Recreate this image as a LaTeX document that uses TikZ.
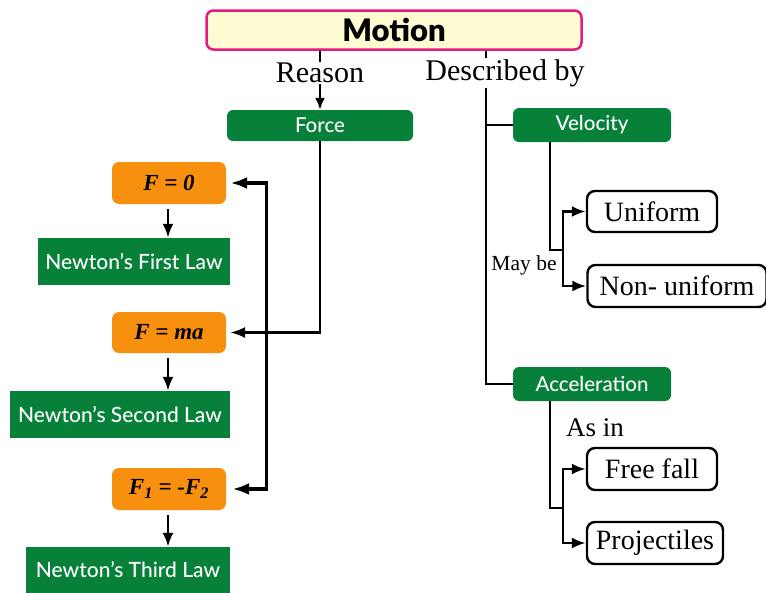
\documentclass[tikz,border=0pt]{standalone}
\usepackage{fontspec}
\setmainfont{Liberation Serif}
\IfFontExistsTF{Lato Black}{\newfontfamily\latoheavy{Lato Black}}{\newfontfamily\latoheavy{Lato}[UprightFont=*-Bold]}
\IfFontExistsTF{Lato Medium}{\newfontfamily\lato{Lato Medium}}{\newfontfamily\lato{Lato}}
\usetikzlibrary{arrows.meta}
\definecolor{lawgreen}{HTML}{07803A}
\definecolor{formorange}{HTML}{F7900E}
\definecolor{motionpink}{HTML}{E5197F}
\definecolor{motionfill}{HTML}{FFFBD2}
\begin{document}
\begin{tikzpicture}[x=1pt,y=-1pt,
  topbox/.style={draw=motionpink, line width=2.5pt, fill=motionfill, rounded corners=7pt, inner sep=0pt, font=\latoheavy\fontsize{31}{31}\selectfont},
  greenbox/.style={fill=lawgreen, text=white, rounded corners=6pt, inner sep=0pt, font=\lato\fontsize{20.5}{20.5}\selectfont},
  lawbox/.style={fill=lawgreen, text=white, inner sep=0pt, font=\lato\fontsize{21}{21}\selectfont},
  formbox/.style={fill=formorange, rounded corners=7pt, inner sep=0pt, minimum width=114pt, font=\bfseries\itshape\fontsize{23}{23}\selectfont},
  kindbox/.style={draw, line width=2.4pt, fill=white, rounded corners=8pt, inner sep=0pt, font=\fontsize{28}{28}\selectfont},
  word/.style={inner sep=1pt, font=\fontsize{30}{30}\selectfont},
  link/.style={line width=2.8pt},
  arr/.style={line width=2.8pt, -{Latex[length=14pt,width=11pt]}}]
\useasboundingbox (0,0) rectangle (766,592);
% top of the map
\node[topbox, minimum width=375pt, minimum height=39pt] (motion) at (394,30) {Motion};
\node[word] (reason) at (320,73) {Reason};
\node[word] (described) at (505,73) {Described by};
\draw[link] (motion.south -| reason.north) -- (reason.north);
\draw[link] (motion.south -| 486,0) -- (486,58);
% left: force and the three laws
\node[greenbox, minimum width=186pt, minimum height=31pt] (force) at (320,125.5) {Force};
\draw[line width=2.4pt, -{Latex[length=12pt,width=10pt]}] (reason.south) -- (force.north);
\node[formbox, minimum height=42pt] (f0) at (169,183) {F = 0};
\node[lawbox, minimum width=192pt, minimum height=47pt] (first) at (134,261.5) {Newton’s First Law};
\node[formbox, minimum height=41pt] (fma) at (169,332.5) {F = ma};
\node[lawbox, minimum width=220pt, minimum height=47pt] (second) at (120,414.5) {Newton’s Second Law};
\node[formbox, minimum height=42pt] (f12) at (169,489) {F\textsubscript{1} = -F\textsubscript{2}};
\node[lawbox, minimum width=204pt, minimum height=46pt] (third) at (128,570) {Newton’s Third Law};
\draw[arr] (f0.south -| 168,0) ++(0,5) -- (first.north -| 168,0);
\draw[arr] (fma.south -| 168,0) ++(0,5) -- (second.north -| 168,0);
\draw[arr] (f12.south -| 168,0) ++(0,5) -- (third.north -| 168,0);
\draw[line width=2.2pt, -{Latex[length=15pt,width=11pt]}, shorten >=4pt] (force.south) |- (fma.east);
\draw[line width=3.4pt, {Latex[length=17pt,width=12pt]}-{Latex[length=17pt,width=12pt]}, shorten <=4pt, shorten >=6pt]
  (f0.east) -- ++(40,0) |- (f12.east);
% right: velocity and acceleration
\coordinate (dtop) at (486,88);
\node[greenbox, minimum width=158pt, minimum height=34pt] (velocity) at (592,125) {Velocity};
\node[greenbox, minimum width=158pt, minimum height=34pt] (accel) at (592,384) {Acceleration};
\draw[link] (dtop) |- (velocity.west);
\draw[link] (dtop) |- (accel.west);
\node[kindbox, minimum width=130pt, minimum height=41pt] (uniform) at (652,211.5) {Uniform};
\node[kindbox, minimum width=179pt, minimum height=42pt] (nonuni) at (677,286) {Non- uniform};
\node[inner sep=0pt, font=\fontsize{21.5}{21.5}\selectfont] (maybe) at (524,265) {May be};
\coordinate (vturn) at (550,250);
\coordinate (vfork) at (563,250);
\draw[link] (velocity.south -| vturn) -- (vturn) -- (vfork);
\draw[arr] (vfork) |- (uniform.west);
\draw[arr] (vfork) |- (nonuni.west);
\node[inner sep=0pt, font=\fontsize{27}{27}\selectfont] (asin) at (595,428) {As in};
\node[kindbox, minimum width=130pt, minimum height=42pt] (freefall) at (652,469) {Free fall};
\node[kindbox, minimum width=136pt, minimum height=42pt] (proj) at (655,543) {Projectiles};
\coordinate (aturn) at (550,508);
\coordinate (afork) at (563,508);
\draw[link] (accel.south -| aturn) -- (aturn) -- (afork);
\draw[arr] (afork) |- (freefall.west);
\draw[arr] (afork) |- (proj.west);
\end{tikzpicture}
\end{document}
